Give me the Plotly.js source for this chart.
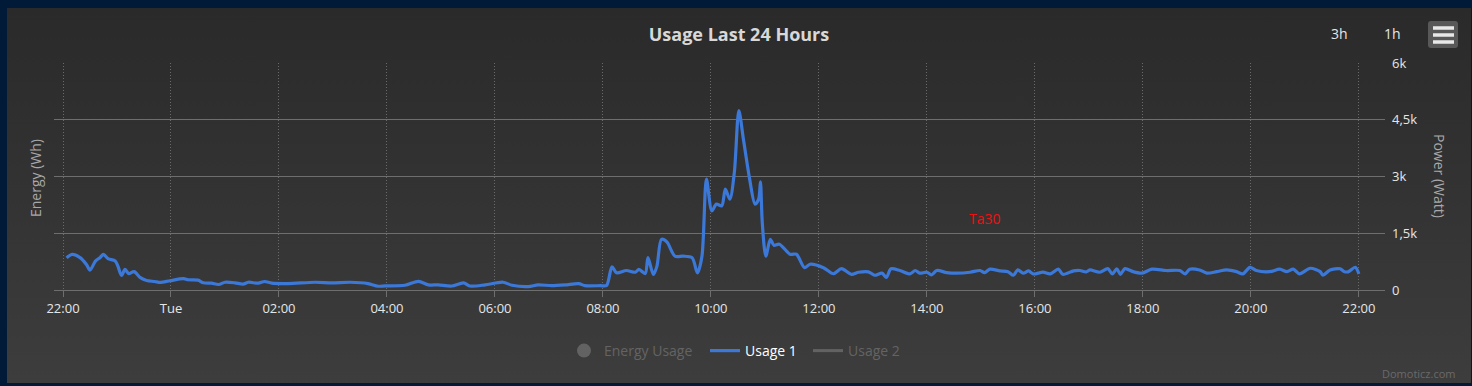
<!DOCTYPE html>
<html>
<head>
<meta charset="utf-8">
<script src="https://cdn.plot.ly/plotly-3.0.1.min.js"></script>
<style>
  html, body { margin:0; padding:0; background:#011a37; width:1472px; height:386px; overflow:hidden; }
  #chart { position:absolute; left:7px; top:8px; width:1464px; height:375px;
           background: linear-gradient(#2a2a2a, #333333 50%, #3d3d3d); }
</style>
</head>
<body>
<div id="chart"></div>
<script>
// ---- data ----
const usageTimes = ["22:04","22:10","22:19","22:26","22:30","22:36","22:41","22:45","22:50","22:58",
  "23:01","23:05","23:09","23:13","23:19","23:26","23:33","23:42","23:48","23:59",
  "00:14","00:19","00:30","00:36","00:45","00:53","01:00","01:11","01:20","01:26",
  "01:37","01:44","01:52","02:10","02:40","02:59","03:19","03:39","03:50","03:58",
  "04:20","04:35","04:46","04:57","05:12","05:25","05:32","05:49","06:09","06:19",
  "06:37","06:48","07:03","07:18","07:33","07:40","07:57","08:04","08:10","08:15",
  "08:26","08:36","08:40","08:47","08:50","08:56","09:00","09:05","09:11","09:20",
  "09:29","09:39","09:45","09:50","09:55","10:01","10:06","10:12","10:16","10:21",
  "10:26","10:31","10:36","10:43","10:49","10:53","10:55","10:57","11:01","11:06",
  "11:10","11:16","11:28","11:35","11:44","11:50","12:05","12:16","12:25","12:36",
  "12:44","12:55","13:02","13:10","13:15","13:20","13:30","13:41","13:47","13:52",
  "14:00","14:05","14:11","14:22","14:33","14:48","14:59","15:04","15:10","15:21",
  "15:30","15:36","15:41","15:47","15:53","15:58","16:09","16:17","16:26","16:31",
  "16:43","16:50","16:57","17:01","17:12","17:21","17:26","17:31","17:35","17:40",
  "17:49","17:59","18:10","18:26","18:41","18:47","18:52","19:03","19:11","19:22",
  "19:33","19:44","19:51","19:59","20:06","20:21","20:32","20:40","20:47","20:54",
  "21:06","21:17","21:20","21:28","21:39","21:44","21:48","21:56","22:00"];
const usage1Watt = [850,940,855,675,525,765,855,940,830,765,
  630,385,545,430,485,325,250,225,200,245,
  300,270,260,190,180,145,205,190,155,205,
  180,225,180,170,205,190,205,170,100,110,
  125,230,135,135,105,190,105,135,205,125,
  90,135,115,135,170,115,115,120,615,455,
  515,470,545,435,855,410,630,1340,1270,895,
  895,855,455,895,2930,2090,2270,2225,2665,2400,
  3110,4745,3995,2930,2270,2400,2860,1785,895,1340,
  1180,1210,945,945,590,680,590,430,565,415,
  470,480,390,445,335,560,515,425,515,445,
  470,400,515,460,445,470,515,460,550,505,
  485,390,530,445,505,425,470,425,550,415,
  505,515,480,530,470,565,425,560,415,565,
  485,445,550,515,515,425,550,530,445,485,
  530,485,425,600,515,485,550,485,550,425,
  575,485,390,530,560,485,480,600,425];
// hidden series (shown only in the legend, values not visible in the reference)
const energyTimes = [null];
const energyWh = [null];
const usage2Times = [null];
const usage2Watt = [null];

const tickTimes = ["22:00","00:00","02:00","04:00","06:00","08:00","10:00","12:00","14:00","16:00","18:00","20:00","22:00"];
const tickText  = ["22:00","Tue","02:00","04:00","06:00","08:00","10:00","12:00","14:00","16:00","18:00","20:00","22:00"];
const powerTickVals = [0,1500,3000,4500,6000];
const powerTickText = ["0","1,5k","3k","4,5k","6k"];
const days = ["2024-01-08","2024-01-09"];
const rangeTimes = ["21:50","22:29"];
const markerLabel = {text:"Ta30", time:"15:04", value:1885};

// ---- helpers: attach dates (day rolls over when the clock goes back) ----
function toDates(times){
  let d = 0, prev = -1;
  return times.map(t => {
    const [h,m] = t.split(":").map(Number);
    const mins = h*60+m;
    if (prev >= 0 && mins < prev) d++;
    prev = mins;
    return days[Math.min(d,1)] + " " + t;
  });
}
const usageX = toDates(usageTimes);
const tickX = toDates(tickTimes);
const rangeX = [days[0]+" "+rangeTimes[0], days[1]+" "+rangeTimes[1]];

// pixel -> paper coordinates (plot area inside the 1464x375 div)
const W=1464, H=375, ML=47, MR=86, MT=55, MB=93;
const PW=W-ML-MR, PH=H-MT-MB;
const px = x => (x-ML)/PW;
const py = y => (H-MB-y)/PH;

const font = "Open Sans, DejaVu Sans, sans-serif";

const traces = [
  {type:"scatter", mode:"markers", name:"Energy Usage", x:energyTimes, y:energyWh, yaxis:"y2",
   visible:"legendonly", marker:{color:"#8a8a8a", size:14, symbol:"circle"}, legend:"legend"},
  {type:"scatter", mode:"lines", name:"Usage 1", x:usageX, y:usage1Watt,
   line:{color:"#3b78d8", width:3.2, shape:"spline", smoothing:0.8}, legend:"legend2", hoverinfo:"x+y"},
  {type:"scatter", mode:"lines", name:"Usage 2", x:usage2Times, y:usage2Watt,
   visible:"legendonly", line:{color:"#8a8a8a", width:3}, legend:"legend3"}
];

const legendY = 1 - 343/H;
const legendBase = {xref:"container", yref:"container", y:legendY, yanchor:"middle", xanchor:"left",
  bgcolor:"rgba(0,0,0,0)", borderwidth:0, orientation:"h", itemclick:false, itemdoubleclick:false};

// hamburger rounded rect
function roundRect(x0,y0,x1,y1,r){
  const X=v=>px(v), Y=v=>py(v);
  return `M ${X(x0+r)},${Y(y0)} L ${X(x1-r)},${Y(y0)} Q ${X(x1)},${Y(y0)} ${X(x1)},${Y(y0+r)} `+
         `L ${X(x1)},${Y(y1-r)} Q ${X(x1)},${Y(y1)} ${X(x1-r)},${Y(y1)} L ${X(x0+r)},${Y(y1)} `+
         `Q ${X(x0)},${Y(y1)} ${X(x0)},${Y(y1-r)} L ${X(x0)},${Y(y0+r)} Q ${X(x0)},${Y(y0)} ${X(x0+r)},${Y(y0)} Z`;
}
const shapes = [
  {type:"path", xref:"paper", yref:"paper", path:roundRect(1421,13,1451,40,3), fillcolor:"#585858", line:{width:0}},
];
[20,27,34].forEach(yy => shapes.push({type:"line", xref:"paper", yref:"paper",
  x0:px(1426), x1:px(1447), y0:py(yy), y1:py(yy), line:{color:"#e8e8e8", width:3.5}}));

const ann = (o) => Object.assign({xref:"paper", yref:"paper", showarrow:false, xanchor:"center", yanchor:"middle"}, o);
const annotations = [
  ann({text:"Energy (Wh)", x:px(28), y:py(170), textangle:-90, font:{family:font, size:14, color:"#a8a8a8"}}),
  ann({text:"Power (Watt)", x:px(1433), y:py(168), textangle:90, font:{family:font, size:14, color:"#a8a8a8"}}),
  ann({text:"3h", x:px(1332), y:py(26), font:{family:font, size:14, color:"#e6e6e6"}}),
  ann({text:"1h", x:px(1385), y:py(26), font:{family:font, size:14, color:"#e6e6e6"}}),
  ann({text:"Domoticz.com", x:px(1411), y:py(365), font:{family:font, size:11, color:"#6a6a6a"}}),
  ann({text:markerLabel.text, x:days[1]+" "+markerLabel.time, y:markerLabel.value, xref:"x", yref:"y",
   font:{family:font, size:14, color:"#f01010"}})
];

const layout = {
  width:W, height:H,
  margin:{l:ML, r:MR, t:MT, b:MB, pad:0},
  paper_bgcolor:"rgba(0,0,0,0)", plot_bgcolor:"rgba(0,0,0,0)",
  title:{text:"<b>Usage Last 24 Hours</b>", x:0.5, xref:"container", xanchor:"center",
         y:1-27/H, yref:"container", yanchor:"middle",
         font:{family:font, size:18, color:"#d8d8d8"}},
  font:{family:font, color:"#e6e6e6"},
  showlegend:true,
  legend: Object.assign({}, legendBase, {x:557/W, font:{family:font, size:14, color:"#8c8c8c"}}),
  legend2: Object.assign({}, legendBase, {x:698/W, font:{family:font, size:14, color:"#ffffff"}}),
  legend3: Object.assign({}, legendBase, {x:801/W, font:{family:font, size:14, color:"#8c8c8c"}}),
  xaxis:{type:"date", range:rangeX, tickmode:"array", tickvals:tickX, ticktext:tickText,
    showgrid:true, gridcolor:"#6a6a6a", griddash:"1px,2px", gridwidth:1,
    ticks:"outside", ticklen:6, tickcolor:"#6e6e6e", tickwidth:1,
    showline:true, linecolor:"#6e6e6e", linewidth:1, zeroline:false,
    tickfont:{family:font, size:13, color:"#e6e6e6"}, fixedrange:true},
  yaxis:{side:"right", range:[0,6000], tickmode:"array", tickvals:powerTickVals, ticktext:powerTickText,
    showgrid:true, gridcolor:"#6e6e6e", gridwidth:1, zeroline:false, showline:false,
    ticks:"", ticklabelstandoff:6,
    tickfont:{family:font, size:13, color:"#e6e6e6"}, fixedrange:true},
  yaxis2:{overlaying:"y", side:"left", range:[0,1], showgrid:false, showticklabels:false,
    zeroline:false, showline:false, ticks:"", fixedrange:true},
  shapes:shapes,
  annotations:annotations
};

Plotly.newPlot("chart", traces, layout, {displayModeBar:false, staticPlot:true});
</script>
</body>
</html>
